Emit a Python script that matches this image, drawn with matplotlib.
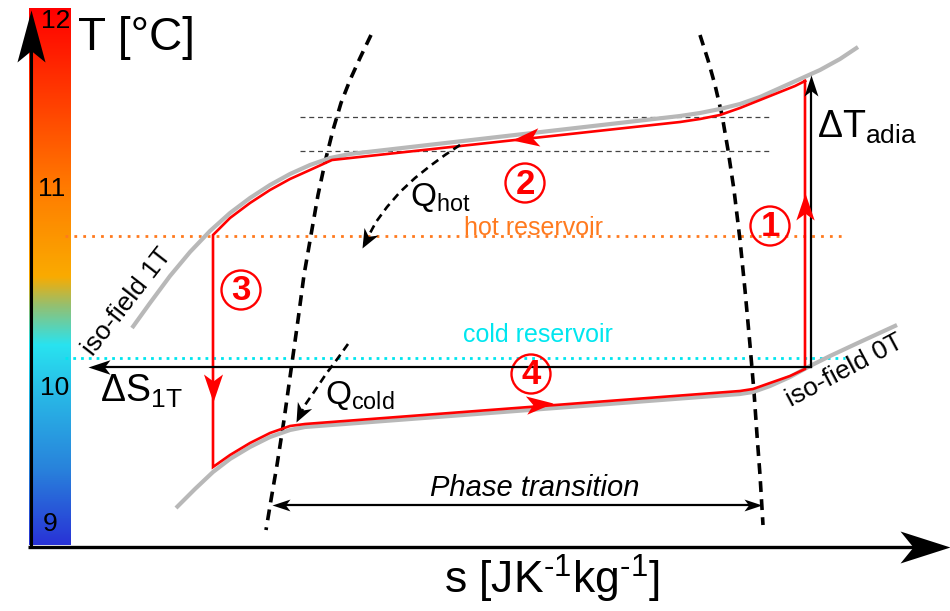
import numpy as np
import matplotlib
matplotlib.use("Agg")
import matplotlib.pyplot as plt
from matplotlib.colors import LinearSegmentedColormap
from matplotlib.markers import MarkerStyle
from matplotlib.patches import Circle
from matplotlib.path import Path
from matplotlib.transforms import Affine2D

plt.rcParams["font.family"] = ["Liberation Sans", "DejaVu Sans"]
plt.rcParams["mathtext.fontset"] = "custom"
plt.rcParams["mathtext.rm"] = "Liberation Sans"
plt.rcParams["mathtext.it"] = "Liberation Sans:italic"
plt.rcParams["mathtext.bf"] = "Liberation Sans:bold"

# ----- schematic coordinates (s to the right, T upward on screen) -----
# iso-field curves (grey)
iso1_s = [132, 150, 170, 190, 210, 230, 250, 270, 290, 310, 330, 350,
          680, 700, 720, 740, 760, 780, 800, 820, 840, 858]
iso1_T = [328, 303, 276, 252, 231, 213, 198, 185, 174, 165, 158, 154,
          116, 113, 109, 104, 97, 88, 79, 70, 59, 47]
iso0_s = [176, 195, 213, 230, 250, 270, 290, 305,
          740, 753, 770, 790, 810, 830, 860, 897]
iso0_T = [508, 489, 472, 459, 447, 437, 430, 427,
          394, 392, 386, 377, 366, 356, 342, 325]

# magnetocaloric cycle (red)
cycle_s = [805, 795, 780, 760, 740, 720, 700, 680,
           332, 310, 290, 270, 250, 230, 213,
           213, 230, 250, 270, 290, 305,
           740, 753, 770, 790, 805, 805]
cycle_T = [81, 86, 92, 100, 108, 115, 119, 122,
           160, 170, 179, 190, 203, 218, 235,
           467, 455, 443, 433, 426, 424,
           391, 389, 383, 376, 369, 81]

# phase boundaries (thick dashed)
pb_left_s = [371, 360, 350, 341, 333, 326, 318, 311, 304, 298, 291, 284, 277, 271, 266]
pb_left_T = [35, 58, 80, 103, 130, 158, 195, 235, 275, 320, 370, 420, 465, 500, 530]
pb_right_s = [700, 708, 715, 722, 728, 734, 740, 745, 750, 754, 757, 760, 763]
pb_right_T = [35, 60, 85, 115, 150, 190, 240, 290, 345, 392, 435, 475, 525]

# heat flows
qhot_s = [460, 445, 430, 415, 400, 387, 376, 369, 364]
qhot_T = [145, 155, 166, 178, 192, 207, 222, 235, 244]
qcold_s = [348, 338, 326, 314, 305, 299]
qcold_T = [344, 358, 374, 392, 405, 417]

# reservoirs and helper levels
hot_level, cold_level = 236, 358
res_s = [65, 845]
guide_levels = [117, 151]
guide_s = [300, 770]
dS_level = 367
dT_s = 811

# colour bar temperature labels
cbar_labels = ["12", "11", "10", "9"]
cbar_label_s = [56, 52, 55, 50]
cbar_label_T = [21, 189, 388, 524]

# step numbers
step_labels = ["1", "2", "3", "4"]
step_s = [770, 525, 241, 531]
step_T = [226, 183, 290, 374]

RED = "#ff0000"
GREY = "#b8b8b8"
ORANGE = "#ff7a1e"
CYAN = "#00e6ef"


def stealth(width=0.3, notch=0.75):
    verts = [(0, 0), (-1, width), (-notch, 0), (-1, -width), (0, 0)]
    codes = [Path.MOVETO, Path.LINETO, Path.LINETO, Path.LINETO, Path.CLOSEPOLY]
    return Path(verts, codes)


def head(ax, tip, tail, length_px, color="black", width=0.3, notch=0.75):
    ang = np.degrees(np.arctan2(-(tip[1] - tail[1]), tip[0] - tail[0]))
    m = MarkerStyle(stealth(width, notch), transform=Affine2D().rotate_deg(ang))
    ax.plot([tip[0]], [tip[1]], linestyle="none", marker=m,
            ms=length_px * 72 / 100 * 2, color=color, mew=0, zorder=6,
            clip_on=False)


fig = plt.figure(figsize=(9.5, 6.11), dpi=100)
ax = fig.add_axes([0, 0, 1, 1])
ax.set_xlim(0, 950)
ax.set_ylim(611, 0)
ax.axis("off")

# colour bar
cmap = LinearSegmentedColormap.from_list("tbar", [
    (0.00, (1.00, 0.00, 0.00)),
    (0.19, (1.00, 0.27, 0.00)),
    (0.34, (1.00, 0.49, 0.00)),
    (0.50, (0.98, 0.67, 0.00)),
    (0.553, (0.59, 0.75, 0.43)),
    (0.628, (0.16, 0.89, 0.94)),
    (0.73, (0.16, 0.71, 0.90)),
    (0.86, (0.16, 0.51, 0.86)),
    (1.00, (0.16, 0.20, 0.84)),
])
ax.imshow(np.linspace(0, 1, 256).reshape(-1, 1), extent=(29, 71, 545, 8),
          cmap=cmap, aspect="auto", origin="upper", zorder=0)
for lab, x, y in zip(cbar_labels, cbar_label_s, cbar_label_T):
    ax.text(x, y, lab, fontsize=19, ha="center", va="center", zorder=7)

# axes arrows
ax.plot([31, 31], [547, 50], color="black", lw=2.2, zorder=5, solid_capstyle="butt")
head(ax, (31, 10), (31, 60), 52, width=0.27, notch=0.78)
ax.plot([28, 915], [547, 547], color="black", lw=2.4, zorder=5, solid_capstyle="butt")
head(ax, (950, 547), (900, 547), 50, width=0.32, notch=0.74)
ax.text(78, 38, "T [°C]", fontsize=33, ha="left", va="center")
ax.text(552, 594, r"s [JK$^{\text{-1}}$kg$^{\text{-1}}$]", fontsize=32,
        ha="center", va="baseline")

# reservoirs
ax.plot(res_s, [hot_level] * 2, color=ORANGE, lw=2.0, dashes=(1, 2.2), zorder=2)
ax.plot(res_s, [cold_level] * 2, color=CYAN, lw=2.0, dashes=(1, 1.8), zorder=2)
ax.text(534, 235, "hot reservoir", color=ORANGE, fontsize=18, ha="center", va="baseline")
ax.text(538, 342, "cold reservoir", color=CYAN, fontsize=18, ha="center", va="baseline")

# thin guide lines
for lv in guide_levels:
    ax.plot(guide_s, [lv, lv], color="#444444", lw=0.9, dashes=(4, 3), zorder=2)

# phase boundaries
ax.plot(pb_left_s, pb_left_T, color="black", lw=2.6, dashes=(3, 2), zorder=3)
ax.plot(pb_right_s, pb_right_T, color="black", lw=2.6, dashes=(3, 2), zorder=3)

# iso-field lines and cycle
ax.plot(iso1_s, iso1_T, color=GREY, lw=3.0, zorder=3, solid_capstyle="butt")
ax.plot(iso0_s, iso0_T, color=GREY, lw=3.0, zorder=3, solid_capstyle="butt")
ax.plot(cycle_s, cycle_T, color=RED, lw=1.9, zorder=4, solid_joinstyle="miter")
ax.text(127, 302, "iso-field 1T", fontsize=19, rotation=52,
        ha="center", va="center", rotation_mode="anchor")
ax.text(845, 371, "iso-field 0T", fontsize=19, rotation=28,
        ha="center", va="center", rotation_mode="anchor")

# direction arrows on the cycle
head(ax, (805, 193), (805, 220), 27, RED, width=0.34)
head(ax, (512, 140), (538, 137), 27, RED, width=0.34)
head(ax, (213, 402), (213, 375), 28, RED, width=0.34)
head(ax, (553, 403), (527, 405), 27, RED, width=0.34)

# step numbers
for lab, x, y in zip(step_labels, step_s, step_T):
    ax.add_patch(Circle((x, y), 19.5, fill=False, ec=RED, lw=1.7, zorder=5))
    ax.text(x, y + 1, lab, color=RED, fontsize=25, fontweight="bold",
            ha="center", va="center", zorder=6)

# adiabatic temperature change / entropy change
ax.plot([dT_s, dT_s], [dS_level, 92], color="black", lw=1.6, zorder=5)
head(ax, (dT_s, 75), (dT_s, 95), 21, width=0.33)
ax.plot([dT_s, 105], [dS_level, dS_level], color="black", lw=1.6, zorder=5)
head(ax, (88, dS_level), (110, dS_level), 22, width=0.33)
ax.text(817, 138, r"$\mathrm{ΔT}_{\mathrm{adia}}$", fontsize=27, ha="left", va="baseline")
ax.text(100, 402, r"$\mathrm{ΔS}_{\mathrm{1T}}$", fontsize=27, ha="left", va="baseline")

# heat flows
ax.plot(qhot_s, qhot_T, color="black", lw=1.9, dashes=(3, 2), zorder=5)
head(ax, (362, 248), (369, 235), 19, width=0.42, notch=0.7)
ax.plot(qcold_s, qcold_T, color="black", lw=1.9, dashes=(3, 2), zorder=5)
head(ax, (296, 422), (303, 408), 19, width=0.42, notch=0.7)
ax.text(410, 206, r"$\mathrm{Q}_{\mathrm{hot}}$", fontsize=24, ha="left", va="baseline")
ax.text(325, 404, r"$\mathrm{Q}_{\mathrm{cold}}$", fontsize=24, ha="left", va="baseline")

# phase transition width
ax.plot([285, 750], [505, 505], color="black", lw=1.6, zorder=5)
head(ax, (272, 505), (292, 505), 18, width=0.33)
head(ax, (762, 505), (742, 505), 18, width=0.33)
ax.text(535, 496, "Phase transition", fontsize=21, style="italic",
        ha="center", va="baseline")

fig.savefig("out.png", dpi=100)
